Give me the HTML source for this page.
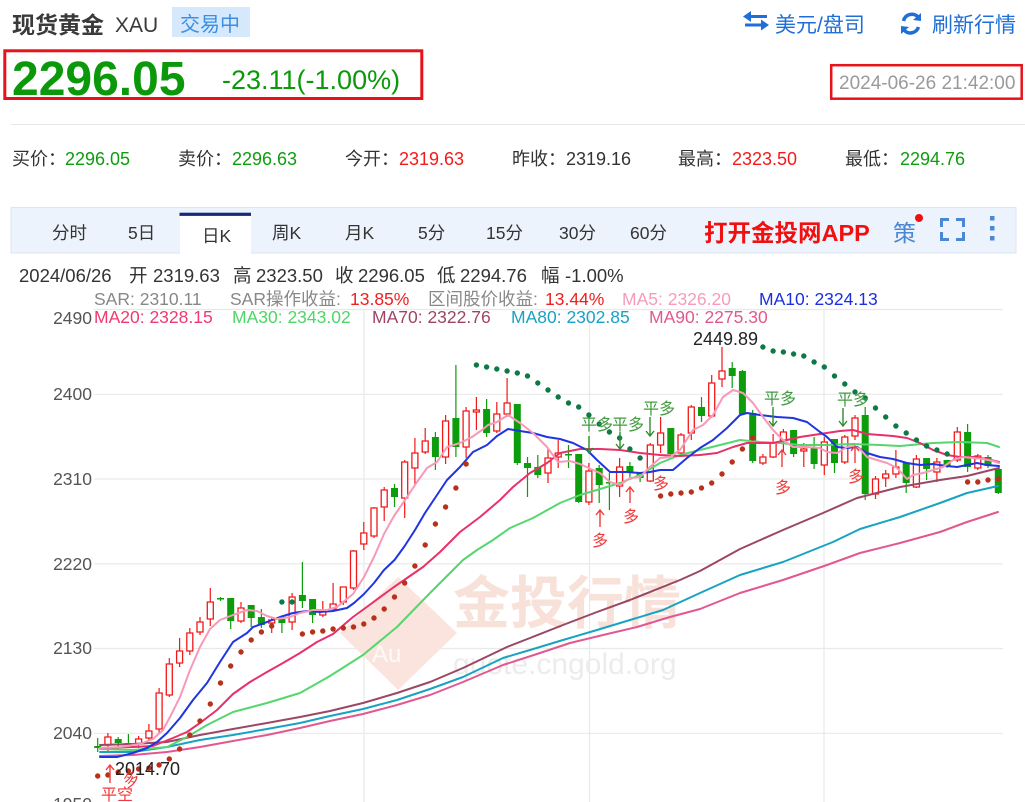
<!DOCTYPE html>
<html><head><meta charset="utf-8"><style>
html,body{margin:0;padding:0;background:#fff;}
body{width:1025px;height:802px;overflow:hidden;position:relative;}
svg{position:absolute;left:0;top:0;font-family:"Liberation Sans","Noto Sans CJK SC",sans-serif;}
.ma{fill:none;stroke-width:2;stroke-linejoin:round;stroke-linecap:round}
</style></head><body>
<svg width="1025" height="802" viewBox="0 0 1025 802">
<!-- header -->
<text x="12" y="33" font-size="23" font-weight="bold" fill="#3a3a3a">现货黄金</text>
<text x="115" y="32" font-size="21" fill="#3a3a3a">XAU</text>
<rect x="172" y="7" width="78" height="30" fill="#d6e9fc"/>
<text x="180" y="31" font-size="20" fill="#3b8fe3">交易中</text>
<rect x="4.8" y="50.8" width="417" height="47.7" fill="none" stroke="#e8121b" stroke-width="3"/>
<text x="12" y="95" font-size="48" font-weight="bold" fill="#0b990b">2296.05</text>
<text x="222" y="89" font-size="27" fill="#0b990b">-23.11(-1.00%)</text>
<!-- right header -->
<g stroke="#1f6fd6" stroke-width="3" fill="#1f6fd6">
<path d="M749 16.5H767M745 25H763" fill="none"/>
<polygon points="743,16.5 751,11 751,22" stroke="none"/>
<polygon points="769,25 761,19.5 761,30.5" stroke="none"/>
</g>
<text x="775" y="32" font-size="21" fill="#1f6fd6">美元/盘司</text>
<g stroke="#1f6fd6" stroke-width="3.5" fill="none">
<path d="M903.5 21 A8.5 8.5 0 0 1 918 17"/>
<path d="M918.5 27 A8.5 8.5 0 0 1 904 30"/>
</g>
<polygon points="921,13 921,21 913,20" fill="#1f6fd6"/>
<polygon points="901,34 901,26 909,27" fill="#1f6fd6"/>
<text x="932" y="32" font-size="21" fill="#1f6fd6">刷新行情</text>
<rect x="831.2" y="65.2" width="190.5" height="33.5" fill="none" stroke="#e8121b" stroke-width="2.5"/>
<text x="839" y="89" font-size="19" fill="#9a9a9a">2024-06-26 21:42:00</text>
<line x1="11" y1="124.5" x2="1025" y2="124.5" stroke="#e6e6e6" stroke-width="1"/>
<!-- info row -->
<g font-size="18">
<text x="12" y="165" fill="#333">买价：</text><text x="65" y="165" fill="#0f9d0f">2296.05</text>
<text x="178" y="165" fill="#333">卖价：</text><text x="232" y="165" fill="#0f9d0f">2296.63</text>
<text x="345" y="165" fill="#333">今开：</text><text x="399" y="165" fill="#f51a1a">2319.63</text>
<text x="512" y="165" fill="#333">昨收：</text><text x="566" y="165" fill="#333">2319.16</text>
<text x="678" y="165" fill="#333">最高：</text><text x="732" y="165" fill="#f51a1a">2323.50</text>
<text x="845" y="165" fill="#333">最低：</text><text x="900" y="165" fill="#0f9d0f">2294.76</text>
</g>
<!-- tabs -->
<rect x="11" y="207.5" width="1005" height="45.5" fill="#edf3fd" stroke="#dbe5f3" stroke-width="1"/>
<rect x="180" y="213" width="71" height="41" fill="#fff"/>
<rect x="179.5" y="212.7" width="71.5" height="3.2" fill="#142c78"/>
<g font-size="17.5" fill="#333">
<text x="52" y="239">分时</text>
<text x="128" y="239">5日</text>
<text x="202" y="242">日K</text>
<text x="272" y="239">周K</text>
<text x="345" y="239">月K</text>
<text x="418" y="239">5分</text>
<text x="486" y="239">15分</text>
<text x="559" y="239">30分</text>
<text x="630" y="239">60分</text>
</g>
<text x="704" y="241" font-size="23.5" font-weight="bold" fill="#f01010">打开金投网APP</text>
<text x="893" y="241" font-size="23" fill="#4a88d4">策</text>
<circle cx="919" cy="218" r="4" fill="#f01010"/>
<g stroke="#4a88d4" stroke-width="3" fill="none">
<path d="M941.5 227V219.5H949M956 219.5H963.5V227M963.5 232V239.5H956M949 239.5H941.5V232"/>
</g>
<g fill="#4a88d4"><rect x="990" y="216" width="4.5" height="4.5"/><rect x="990" y="226" width="4.5" height="4.5"/><rect x="990" y="236" width="4.5" height="4.5"/></g>
<!-- legend -->
<g font-size="18.5" fill="#333">
<text x="19" y="282">2024/06/26</text>
<text x="129" y="282">开</text><text x="153" y="282">2319.63</text>
<text x="233" y="282">高</text><text x="256" y="282">2323.50</text>
<text x="335" y="282">收</text><text x="358" y="282">2296.05</text>
<text x="437" y="282">低</text><text x="460" y="282">2294.76</text>
<text x="541" y="282">幅</text><text x="565" y="282">-1.00%</text>
</g>
<g font-size="17.5">
<text x="94" y="305" fill="#888">SAR: 2310.11</text>
<text x="230" y="305" fill="#888">SAR操作收益: </text><text x="350" y="305" fill="#f01e1e">13.85%</text>
<text x="428" y="305" fill="#888">区间股价收益: </text><text x="545" y="305" fill="#f01e1e">13.44%</text>
<text x="622" y="305" fill="#f89bbb">MA5: 2326.20</text>
<text x="759" y="305" fill="#1b2fe0">MA10: 2324.13</text>
</g>
<!-- grid -->
<g stroke="#e9e9e9" stroke-width="1.2">
<path d="M94 309.5H1003M94 394.3H1003M94 479H1003M94 563.8H1003M94 648.5H1003M94 733.3H1003"/>
<path d="M364 309.5V802M589.5 309.5V802M824 309.5V802"/>
</g>
<g font-size="17.5">
<text x="94" y="323" fill="#ee3a70">MA20: 2328.15</text>
<text x="232" y="323" fill="#4cd766">MA30: 2343.02</text>
<text x="372" y="323" fill="#9d4466">MA70: 2322.76</text>
<text x="511" y="323" fill="#17a2c5">MA80: 2302.85</text>
<text x="649" y="323" fill="#e0588e">MA90: 2275.30</text>
</g>
<g font-size="17.5" fill="#555" text-anchor="end">
<text x="92" y="324">2490</text>
<text x="92" y="400">2400</text>
<text x="92" y="485">2310</text>
<text x="92" y="570">2220</text>
<text x="92" y="654">2130</text>
<text x="92" y="739">2040</text>
<text x="92" y="810">1950</text>
</g>
<!-- watermark -->
<polygon points="398,577 457,633 398,690 340,633" fill="#fbe4dd"/>
<text x="372" y="662" font-size="24" fill="#ffffff" fill-opacity="0.8">Au</text>
<text x="453" y="623" font-size="57" font-weight="bold" fill="#f8e1d9">金投行情</text>
<text x="453" y="674" font-size="30" fill="#ececec">quote.cngold.org</text>
<!-- candles -->
<path fill="none" stroke="#0c9c0c" stroke-width="1.2" d="M97.7 738V752M118.2 737V747M128.4 734V747M220.5 597V601M230.7 598V629M251.2 605V627M261.4 609V628M281.9 619V633M302.4 562V608M312.6 599V623M394.5 484V507M435.4 432V470M455.9 365V457M486.6 399V437M517.3 404V465M527.5 457V497M537.8 455V478M568.5 445V468M578.7 454V503M599.2 465V503M609.4 473V510M629.9 462V477M640.1 472V482M670.8 428V455M701.5 397V422M732.2 362V388M742.4 370V415M752.7 410V463M793.6 430V457M814.1 437V469M834.5 439V473M865.2 407V500M906.2 463V493M926.6 458V480M947.1 460V468M967.6 424V472M988 455V468M998.3 469V494"/>
<path fill="#0c9c0c" d="M94.2 746h7V748h-7zM114.7 739h7V743h-7zM124.9 743h7V744.5h-7zM217 598h7V599.5h-7zM227.2 598h7V621h-7zM247.7 605h7V618h-7zM257.9 617h7V625h-7zM278.4 619h7V623h-7zM298.9 595h7V601h-7zM309.1 599h7V615h-7zM391 488h7V497h-7zM431.9 437h7V457h-7zM452.4 418h7V447h-7zM483.1 409h7V433h-7zM513.8 404h7V463h-7zM524 463h7V468h-7zM534.3 467h7V475h-7zM565 454h7V455.5h-7zM575.2 454h7V502h-7zM595.7 468h7V485h-7zM605.9 482h7V483.5h-7zM626.4 466h7V473h-7zM636.6 473h7V478h-7zM667.3 428h7V454h-7zM698 407h7V416h-7zM728.7 368h7V376h-7zM738.9 371h7V414h-7zM749.2 413h7V461h-7zM790.1 430h7V454h-7zM810.6 448h7V464h-7zM831 439h7V463h-7zM861.7 415h7V494h-7zM902.7 463h7V483h-7zM923.1 458h7V469h-7zM943.6 460h7V466h-7zM964.1 432h7V467h-7zM984.5 457h7V466h-7zM994.8 469h7V493h-7z"/>
<path fill="none" stroke="#f21818" stroke-width="1.2" d="M107.9 733V753M138.6 736V748M148.9 724V740M159.1 688V733M169.3 658V697M179.6 638V667M189.8 628V655M200 617V635M210.3 588V626M241 602V623M271.7 618V633M292.1 593V630M322.8 601V617M333.1 583V612M343.3 587V605M353.5 550V590M363.8 522V550M374 507V538M384.2 487V521M404.7 460V518M414.9 438V485M425.2 428V454M445.6 415V464M466.1 407V458M476.4 397V430M496.8 402V433M507.1 378V417M548 448V483M558.2 440V468M588.9 463V505M619.6 458V497M650.3 443V482M660.6 417V453M681 433V455M691.3 405V440M711.7 375V418M722 347V387M762.9 454V465M773.1 434V458M783.4 429V451M803.8 443V467M824.3 437V475M844.8 435V464M855 415V440M875.5 476V499M885.7 470V487M895.9 450V478M916.4 455V488M936.9 458V482M957.3 427V462M977.8 454V470"/>
<path fill="#fff" stroke="#f21818" stroke-width="1.3" d="M104.9 737h6V745h-6zM135.6 739h6V744h-6zM145.9 731h6V738h-6zM156.1 693h6V729h-6zM166.3 664h6V695h-6zM176.6 651h6V663h-6zM186.8 633h6V651h-6zM197 622h6V632h-6zM207.3 602h6V619h-6zM238 608h6V621h-6zM268.7 620h6V623h-6zM289.1 597h6V622h-6zM319.8 611h6V615h-6zM330.1 604h6V609h-6zM340.3 587h6V602h-6zM350.5 551h6V588h-6zM360.8 533h6V544h-6zM371 508h6V536h-6zM381.2 490h6V507h-6zM401.7 462h6V498h-6zM411.9 453h6V468h-6zM422.2 441h6V452h-6zM442.6 421h6V457h-6zM463.1 411h6V447h-6zM473.4 410h6V412h-6zM493.8 414h6V431h-6zM504.1 403h6V414h-6zM545 458h6V473h-6zM555.2 453h6V457h-6zM585.9 471h6V502h-6zM616.6 467h6V486h-6zM647.3 445h6V481h-6zM657.6 433h6V445h-6zM678 435h6V453h-6zM688.3 407h6V433h-6zM708.7 383h6V416h-6zM719 371h6V379h-6zM759.9 457h6V463h-6zM770.1 443h6V457h-6zM780.4 432h6V440h-6zM800.8 449h6V451h-6zM821.3 442h6V465h-6zM841.8 437h6V462h-6zM852 418h6V436h-6zM872.5 479h6V494h-6zM882.7 474h6V478h-6zM892.9 467h6V474h-6zM913.4 459h6V487h-6zM933.9 462h6V472h-6zM954.3 432h6V460h-6zM974.8 456h6V468h-6z"/>
<!-- moving averages -->
<polyline class="ma" stroke="#e2578f" points="100,756 133,755 167,752 200,747 233,741 267,735 300,728 330,721 363,714 397,705 430,695 463,682 503,665 537,654 570,643 603,635 637,627 670,617 700,609 740,593 783,580 827,565 860,553 900,543 940,532 967,522 998,512"/>
<polyline class="ma" stroke="#18a3c2" points="100,752 133,752 167,747 200,740 233,735 267,729 300,723 330,716 363,709 397,700 430,689 463,677 503,658 530,650 563,640 597,630 630,620 663,610 700,593 740,575 783,562 833,542 860,529 900,517 940,503 967,493 998,486"/>
<polyline class="ma" stroke="#9a4864" points="100,745 133,744 167,742 200,735 233,729 267,723 300,717 330,711 363,703 397,693 430,682 463,668 507,647 530,638 563,625 597,612 630,600 680,580 700,571 740,549 783,530 823,513 857,498 900,487 940,480 967,476 999,468"/>
<polyline class="ma" stroke="#55d66e" points="100,749 133,750 167,747 187,737 207,725 233,712 267,703 300,693 330,676 363,655 397,627 430,593 463,560 477,550 493,540 510,528 533,518 560,503 580,495 600,489 620,483 640,475 660,463 680,455 700,450 720,445 740,440 760,442 780,443 800,445 827,445 853,444 880,445 900,446 933,443 960,442 987,443 999,447"/>
<polyline class="ma" stroke="#e8306a" points="100,748 133,747 153,746 173,738 187,732 200,723 217,710 233,694 250,682 267,672 283,663 300,653 317,642 333,634 353,617 364,609 394,587 423,567 440,552 460,532 480,517 500,500 513,487 530,473 547,463 560,453 580,449 600,449 620,450 640,453 660,455 680,456 700,455 717,453 733,447 747,443 760,443 773,443 787,440 800,437 820,434 840,431 853,430 867,434 880,435 893,436 907,438 920,443 933,450 947,455 960,457 973,457 987,459 999,462"/>
<polyline class="ma" stroke="#1f35e0" points="100,757 117,757 133,753 147,748 157,742 167,733 180,718 193,700 207,683 220,662 233,642 247,633 253,627 267,622 280,617 293,613 307,611 320,612 333,611 347,608 354,603 364,594 374,583 384,570 394.5,560 404.7,546 415,530 425,513 435,498 447,480 460,467 473,452 487,445 497,436 508,429 520,431 533,433 547,437 560,439 573,443 587,450 597,460 610,472 627,472 640,473 650,472 660,470 673,470 687,458 700,448 713,440 727,428 740,415 747,413 760,415 777,417 793,418 807,422 820,432 827,437 837,447 847,448 857,447 867,453 880,457 893,459 907,463 920,465 933,464 947,466 957,467 967,465 977,463 987,465 999,466"/>
<polyline class="ma" stroke="#f799b8" points="100,748 120,747 140,744 153,739 163,730 170,717 180,697 190,670 200,647 210,629 220,620 233,615 247,610 257,611 267,616 277,619 290,617 300,613 313,610 327,610 337,607 353,594 364,577 374,557 384,534 394,516 405,500 417,482 427,468 437,462 447,447 460,443 472,437 482,430 488,425 497,422 508,415 520,423 533,433 547,447 558,462 570,461 580,464 593,470 600,473 610,482 620,485 630,478 640,477 650,467 660,458 670,457 680,450 693,430 703,425 713,415 723,397 733,390 743,393 753,403 763,417 773,430 783,440 793,447 807,447 820,448 827,452 837,453 847,447 853,446 860,449 867,457 877,460 887,463 897,468 907,479 913,475 923,473 933,470 943,467 953,460 963,457 973,458 983,459 993,461 999,463"/>
<!-- SAR -->
<path fill="none" stroke="#b8311a" stroke-width="5.4" stroke-linecap="round" d="M97.7 776h0M107.9 775h0M118.2 772h0M128.4 771h0M138.6 769h0M148.9 768h0M159.1 765h0M169.3 759h0M179.6 749h0M189.8 735h0M200 721h0M210.3 704h0M220.5 683h0M230.7 666h0M241 652h0M251.2 640h0M261.4 632h0M271.7 626h0M302.4 634h0M312.6 632h0M322.8 631h0M333.1 629h0M343.3 628h0M353.5 627h0M363.8 624h0M374 618h0M384.2 609h0M394.5 597h0M404.7 583h0M414.9 566h0M425.2 545h0M435.4 524h0M445.6 507h0M455.9 488h0M466.1 464h0M660.6 496h0M670.8 494h0M681 493h0M691.3 492h0M701.5 488h0M711.7 483h0M722 474h0M732.2 462h0M742.4 449h0M752.7 438h0M967.6 482h0M977.8 482h0M988 480h0M998.3 479h0"/>
<path fill="none" stroke="#0d7a45" stroke-width="5.4" stroke-linecap="round" d="M281.9 602h0M292.1 602h0M476.4 365h0M486.6 367h0M496.8 369h0M507.1 371h0M517.3 373h0M527.5 376h0M537.8 383h0M548 390h0M558.2 397h0M568.5 403h0M578.7 407h0M588.9 415h0M599.2 424h0M609.4 432h0M619.6 438h0M629.9 449h0M640.1 458h0M762.9 347h0M773.1 351h0M783.4 352h0M793.6 354h0M803.8 356h0M814.1 362h0M824.3 367h0M834.5 376h0M844.8 384h0M855 392h0M865.2 398h0M875.5 408h0M885.7 417h0M895.9 426h0M906.2 433h0M916.4 440h0M926.6 446h0M936.9 450h0M947.1 454h0"/>
<!-- annotations -->
<text x="693" y="345" font-size="18" fill="#222">2449.89</text>
<text x="115" y="775" font-size="18" fill="#222">2014.70</text>
<g stroke="#f23a3a" stroke-width="1.4" fill="none">
<path d="M110 783V765M106 770L110 765L114 770"/>
<path d="M600 527V510M596 515L600 510L604 515"/>
<path d="M630 503V487M626 492L630 487L634 492"/>
<path d="M782 467V450M778 455L782 450L786 455"/>
<path d="M855 463V446M851 451L855 446L859 451"/>
</g>
<g font-size="16" fill="#f23a3a" text-anchor="middle">
<text x="117" y="800">平空</text>
<text x="131" y="785" transform="rotate(-25 131 779)">多</text>
<text x="600" y="546">多</text>
<text x="631" y="522">多</text>
<text x="661" y="489">多</text>
<text x="783" y="493">多</text>
<text x="856" y="482">多</text>
</g>
<g stroke="#2e8b2e" stroke-width="1.4" fill="none">
<path d="M589 436V453M585 448L589 453L593 448"/>
<path d="M620 432V449M616 444L620 449L624 444"/>
<path d="M650 417V436M646 431L650 436L654 431"/>
<path d="M773 407V426M769 421L773 426L777 421"/>
<path d="M843 408V426M839 421L843 426L847 421"/>
</g>
<g font-size="16" fill="#3f9c3f" text-anchor="middle">
<text x="597" y="430">平多</text>
<text x="628" y="430">平多</text>
<text x="659" y="414">平多</text>
<text x="780" y="404">平多</text>
<text x="853" y="405">平多</text>
</g>
</svg>
</body></html>
